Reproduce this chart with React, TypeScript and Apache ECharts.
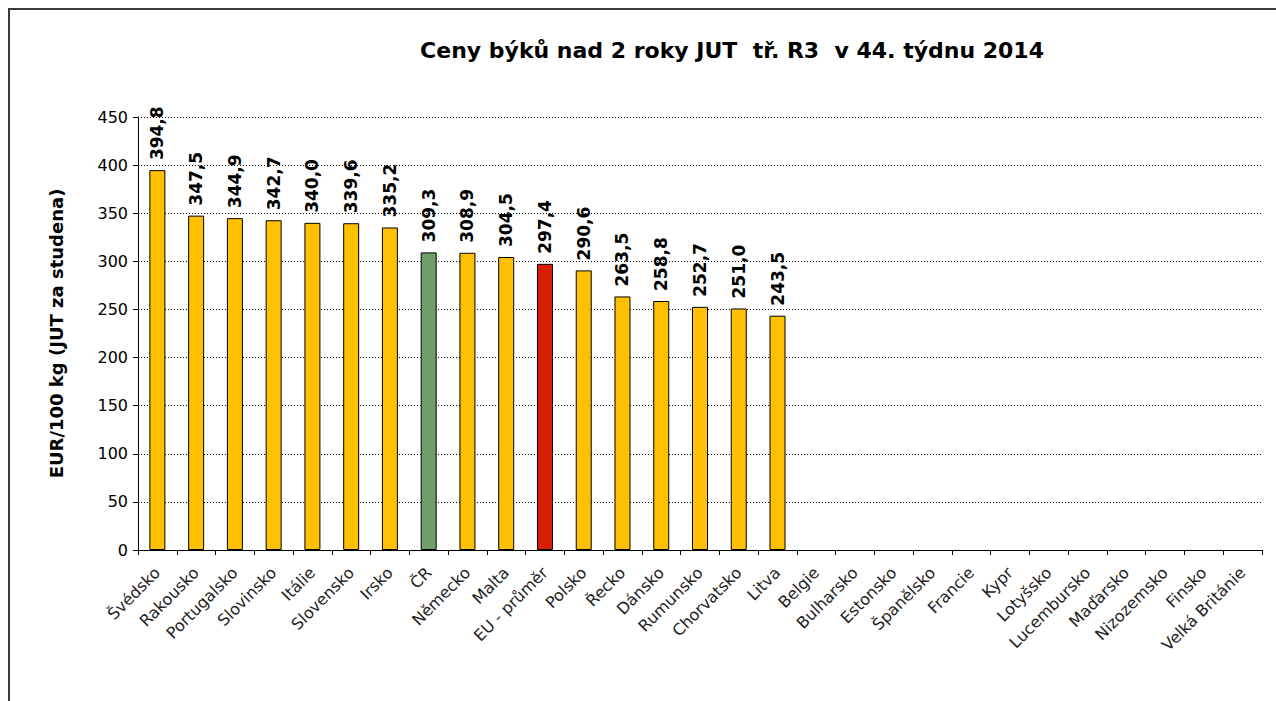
import React, { useEffect, useRef } from "react";
import * as echarts from "echarts";

const titleText = "Ceny býků nad 2 roky JUT  tř. R3  v 44. týdnu 2014";
const yAxisName = "EUR/100 kg (JUT za studena)";

const categories = [
  "Švédsko", "Rakousko", "Portugalsko", "Slovinsko", "Itálie", "Slovensko", "Irsko", "ČR",
  "Německo", "Malta", "EU - průměr", "Polsko", "Řecko", "Dánsko", "Rumunsko", "Chorvatsko",
  "Litva", "Belgie", "Bulharsko", "Estonsko", "Španělsko", "Francie", "Kypr", "Lotyšsko",
  "Lucembursko", "Maďarsko", "Nizozemsko", "Finsko", "Velká Británie",
];

const values: (number | null)[] = [
  394.8, 347.5, 344.9, 342.7, 340.0, 339.6, 335.2, 309.3, 308.9, 304.5, 297.4, 290.6,
  263.5, 258.8, 252.7, 251.0, 243.5, null, null, null, null, null, null, null, null, null,
  null, null, null,
];

const highlightGreen = ["ČR"];
const highlightRed = ["EU - průměr"];

const yTicks = { min: 0, max: 450, interval: 50 };

export default function App() {
  const ref = useRef<HTMLDivElement>(null);
  useEffect(() => {
    if (!ref.current) return;
    const chart = echarts.init(ref.current, null, { renderer: "svg" });
    const font = "'DejaVu Sans', Verdana, sans-serif";
    const data = categories.map((c, i) => {
      const v = values[i];
      let color = "#FFC000";
      if (highlightGreen.includes(c)) color = "#6B9E6B";
      if (highlightRed.includes(c)) color = "#D81E06";
      return { value: v === null ? "-" : v, itemStyle: { color } };
    });
    chart.setOption({
      animation: false,
      backgroundColor: "#ffffff",
      title: {
        text: titleText,
        left: 727,
        textAlign: "center",
        top: 34,
        textStyle: { fontFamily: font, fontSize: 22, fontWeight: "bold", color: "#000" },
      },
      grid: { left: 138, right: 14, top: 117, bottom: 151, containLabel: false },
      xAxis: {
        type: "category",
        data: categories,
        axisLine: { lineStyle: { color: "#000", width: 1 } },
        axisTick: { show: true, length: 5, lineStyle: { color: "#000" } },
        axisLabel: {
          rotate: 45,
          interval: 0,
          margin: 20,
          fontFamily: font,
          fontSize: 16,
          color: "#222",
        },
      },
      yAxis: {
        type: "value",
        min: yTicks.min,
        max: yTicks.max,
        interval: yTicks.interval,
        name: yAxisName,
        nameLocation: "middle",
        nameGap: 73,
        nameTextStyle: { fontFamily: font, fontSize: 18, fontWeight: "bold", color: "#000" },
        axisLine: { show: true, lineStyle: { color: "#000", width: 1 } },
        axisTick: { show: true, length: 5, lineStyle: { color: "#000" } },
        axisLabel: { fontFamily: font, fontSize: 16, color: "#000", margin: 10 },
        splitLine: { show: true, lineStyle: { color: "#000", type: [1, 2], width: 1 } },
      },
      series: [
        {
          type: "bar",
          data,
          barWidth: 16,
          itemStyle: { borderColor: "#000", borderWidth: 1 },
          label: {
            show: true,
            position: "top",
            rotate: 90,
            align: "left",
            verticalAlign: "middle",
            distance: 10,
            fontFamily: font,
            fontSize: 17,
            fontWeight: "bold",
            color: "#000",
            formatter: (p: any) =>
              typeof p.value === "number" ? p.value.toFixed(1).replace(".", ",") : "",
          },
        },
      ],
      graphic: [
        {
          type: "line",
          shape: { x1: 8, y1: 9, x2: 1276, y2: 9 },
          style: { stroke: "#3a3a3a", lineWidth: 2 },
        },
        {
          type: "line",
          shape: { x1: 9, y1: 8, x2: 9, y2: 701 },
          style: { stroke: "#3a3a3a", lineWidth: 2 },
        },
      ],
    });
    return () => chart.dispose();
  }, []);
  return (
    <div
      ref={ref}
      style={{ position: "absolute", left: 0, top: 0, width: 1276, height: 701 }}
    />
  );
}
